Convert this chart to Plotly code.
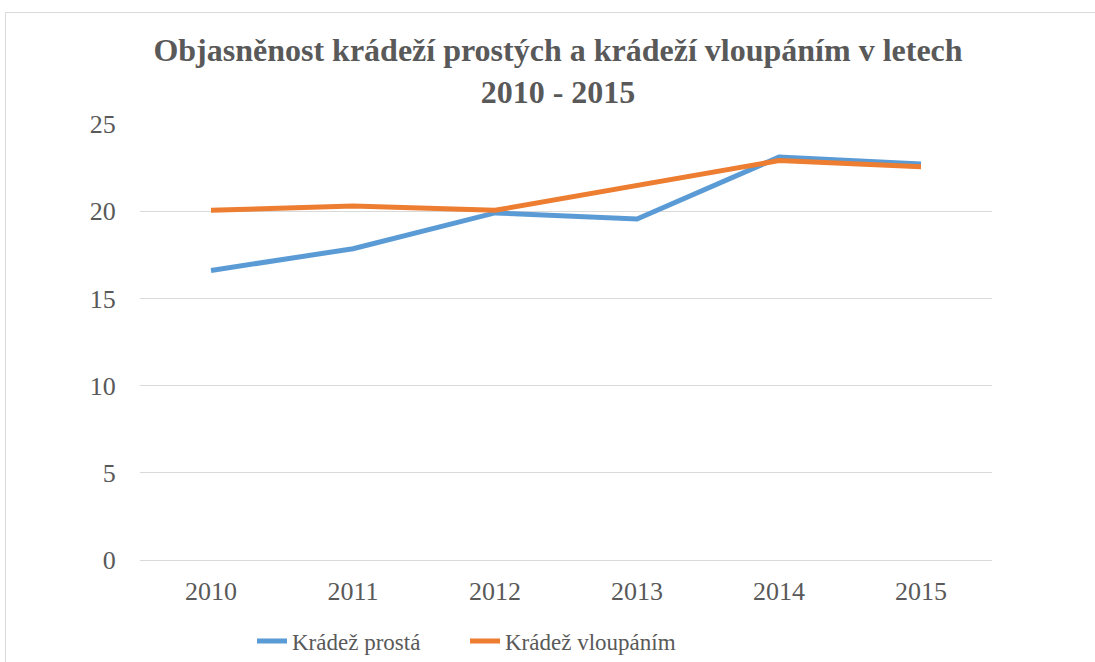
import plotly.graph_objects as go

years = ["2010", "2011", "2012", "2013", "2014", "2015"]
kradez_prosta = [16.6, 17.85, 19.9, 19.55, 23.1, 22.7]
kradez_vloupanim = [20.05, 20.3, 20.05, 21.5, 22.9, 22.55]
series_names = ["Krádež prostá", "Krádež vloupáním"]
title_text = "Objasněnost krádeží prostých a krádeží vloupáním v letech<br>2010 - 2015"

W, H = 1095, 662
L, R, T, B = 140, 103, 124, 102
pw, ph = W - L - R, H - T - B

def px_x(p):
    return (p - L) / pw

def px_y(p):
    return (H - B - p) / ph

fig = go.Figure()
fig.add_trace(go.Scatter(x=years, y=kradez_prosta, name=series_names[0], mode="lines",
                         line=dict(color="#5b9bd5", width=5)))
fig.add_trace(go.Scatter(x=years, y=kradez_vloupanim, name=series_names[1], mode="lines",
                         line=dict(color="#ed7d31", width=5)))

font_family = "Liberation Serif"
grey = "#595959"
fig.update_layout(
    width=W, height=H,
    margin=dict(l=L, r=R, t=T, b=B, autoexpand=False),
    paper_bgcolor="white", plot_bgcolor="white",
    font=dict(family=font_family, color=grey, size=24),
    title=dict(text="<b>" + title_text + "</b>", x=558 / W, xanchor="center",
               y=1 - 61 / H, yanchor="middle",
               font=dict(size=32, color=grey, family=font_family)),
    showlegend=True,
    legend=dict(orientation="h", x=px_x(465), xanchor="center", y=px_y(641), yanchor="middle",
                font=dict(size=23, color=grey, family=font_family), bgcolor="rgba(0,0,0,0)",
                itemwidth=30, tracegroupgap=0, entrywidth=168),
    xaxis=dict(type="category", range=[-0.5, 5.5], showgrid=False, showline=True,
               linecolor="#d9d9d9", linewidth=1, ticks="outside", ticklen=8,
               tickcolor="rgba(0,0,0,0)",
               tickfont=dict(size=26, color=grey, family=font_family),
               fixedrange=True),
    yaxis=dict(range=[0, 25], dtick=5, tick0=0, showgrid=True, gridcolor="#d9d9d9", gridwidth=1,
               zeroline=False, showline=False, ticks="outside", ticklen=18, tickcolor="rgba(0,0,0,0)",
               tickfont=dict(size=26, color=grey, family=font_family), fixedrange=True),
    shapes=[
        dict(type="line", xref="paper", yref="paper",
             x0=px_x(5.5), x1=px_x(1095), y0=px_y(12.5), y1=px_y(12.5),
             line=dict(color="#d9d9d9", width=1), layer="below"),
        dict(type="line", xref="paper", yref="paper",
             x0=px_x(5.5), x1=px_x(5.5), y0=px_y(12.5), y1=px_y(662),
             line=dict(color="#d9d9d9", width=1), layer="below"),
    ],
)

fig.write_html("out.html", config={"displayModeBar": False},
               post_script="document.body.style.margin='0';")
